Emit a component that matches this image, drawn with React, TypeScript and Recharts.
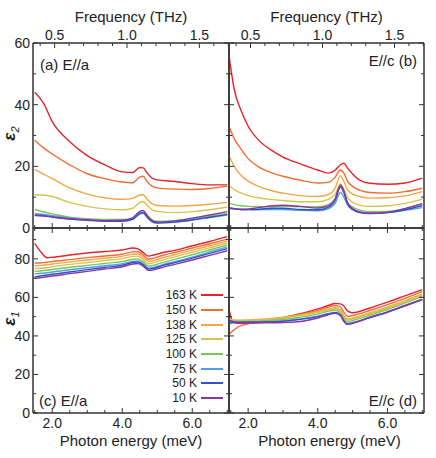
import React from 'react';
import { LineChart, Line, XAxis, YAxis, Legend } from 'recharts';

// ---------- layout ----------
const W = 436;
const H = 458;
const X0 = 33;   // left edge of left panels
const XM = 229;  // border between columns
const X1 = 424;  // right edge of right panels
const Y0 = 43;   // top edge
const YM = 228;  // border between rows
const Y1 = 413;  // bottom edge
const AX = 1;    // axis band size (recharts skips zero-size axes)
const AXIS = '#333';
const FONT = '"Liberation Sans", Arial, sans-serif';

// ---------- data ----------
const temps = ['163 K', '150 K', '138 K', '125 K', '100 K', '75 K', '50 K', '10 K'];
const keys = ['t163', 't150', 't138', 't125', 't100', 't75', 't50', 't10'];
const colors = ['#e4232a', '#f26b30', '#f4a545', '#d8c24e', '#7cc462', '#4ea3d6', '#2f50d0', '#8a36a0'];

const MEV_PER_THZ = 4.1357;
const energyDomain: [number, number] = [1.45, 7.05];
const meVTicks = [1.5, 2, 2.5, 3, 3.5, 4, 4.5, 5, 5.5, 6, 6.5, 7];
const meVMajor = [2, 4, 6];
const thzTicks = [0.4, 0.5, 0.6, 0.7, 0.8, 0.9, 1.0, 1.1, 1.2, 1.3, 1.4, 1.5, 1.6, 1.7];
const thzMajor = [0.5, 1.0, 1.5];
const eps2Ticks = [0, 10, 20, 30, 40, 50, 60];
const eps2Major = [0, 20, 40, 60];
const eps1Ticks = [0, 10, 20, 30, 40, 50, 60, 70, 80, 90];
const eps1Major = [0, 20, 40, 60, 80];

// (a) eps2, E//a  — rows: 163,150,138,125,100,75,50,10 K
const energyA = [1.5, 1.75, 2.0, 2.5, 3.0, 3.5, 4.0, 4.3, 4.5, 4.6, 4.7, 4.85, 5.0, 5.5, 6.0, 6.5, 7.0];
const eps2A_163 = [44, 40.5, 34.5, 28, 23.5, 20.5, 18.2, 18, 19.6, 19.5, 18, 16.2, 15.6, 15.1, 14.4, 14, 14];
const eps2A_150 = [28.5, 26, 24, 20.5, 17.6, 16, 14.9, 14.7, 16.5, 16.8, 15.2, 13.6, 13.0, 12.6, 12.5, 12.8, 13.6];
const eps2A_138 = [19, 17.5, 16, 13, 11, 9.8, 9.3, 9.6, 10.7, 10.8, 9.5, 7.9, 7.3, 7.1, 7.3, 7.7, 8.3];
const eps2A_125 = [10.8, 10.7, 10.2, 8.3, 7.0, 6.2, 5.9, 6.4, 8.3, 8.6, 7.5, 5.9, 5.4, 5.0, 5.3, 5.9, 6.8];
const eps2A_100 = [6.0, 5.2, 4.6, 3.5, 3.0, 2.8, 2.8, 3.3, 4.9, 5.1, 4.0, 2.6, 2.2, 2.4, 3.0, 3.8, 4.6];
const eps2A_75 = [4.6, 4.4, 4.0, 3.2, 2.7, 2.4, 2.4, 2.9, 4.6, 4.8, 3.6, 2.2, 1.8, 2.0, 2.6, 3.4, 4.2];
const eps2A_50 = [4.2, 4.0, 3.6, 2.9, 2.5, 2.2, 2.2, 2.8, 4.7, 5.0, 3.7, 2.1, 1.6, 1.9, 2.6, 3.5, 4.4];
const eps2A_10 = [4.0, 3.9, 3.5, 3.0, 2.6, 2.4, 2.5, 3.3, 5.4, 5.7, 4.3, 2.5, 1.9, 2.3, 3.2, 4.2, 5.3];

// (b) eps2, E//c
const energyB = [1.45, 1.6, 1.8, 2.0, 2.3, 2.7, 3.0, 3.5, 4.0, 4.3, 4.5, 4.65, 4.75, 4.85, 5.0, 5.2, 5.5, 6.0, 6.5, 7.0];
const eps2B_163 = [56, 45, 38, 33, 28.5, 25, 23, 20.8, 18.8, 17.8, 18.8, 20.5, 21, 19.5, 17.5, 15.5, 14.5, 14.2, 14.6, 16.2];
const eps2B_150 = [33, 29, 25.5, 22.5, 19.8, 17.8, 16.8, 15.5, 14.6, 14.8, 16.5, 18.8, 17.8, 15.3, 13.5, 12.3, 11.5, 11.3, 11.8, 12.9];
const eps2B_138 = [23.5, 20, 17, 15.2, 13.5, 12, 11.3, 10.5, 10.2, 10.8, 13, 17, 15, 12.5, 11, 10.2, 9.7, 9.8, 10.4, 11.8];
const eps2B_125 = [13.8, 12.5, 11.3, 10.5, 9.8, 9.2, 8.9, 8.5, 8.5, 9.3, 11, 14.3, 12.5, 10, 8.3, 7.4, 7, 7.2, 8, 9.3];
const eps2B_100 = [8.0, 7.6, 7.2, 7.0, 6.9, 6.9, 7.0, 6.9, 6.9, 7.6, 9.5, 13.5, 11.5, 8.5, 6.8, 5.8, 5.3, 5.4, 6.3, 7.8];
const eps2B_75 = [6.3, 6.2, 6.1, 6.0, 5.9, 6.0, 6.0, 5.7, 5.6, 6.2, 8.0, 11.5, 10, 7.5, 6.0, 5.2, 4.8, 5.0, 5.7, 6.6];
const eps2B_50 = [6.4, 6.2, 6.0, 6.0, 6.1, 6.4, 6.4, 6.0, 5.9, 6.7, 9.0, 13.3, 11.5, 8.0, 6.0, 5.0, 4.7, 5.0, 5.9, 7.2];
const eps2B_10 = [6.6, 6.3, 6.0, 6.1, 6.6, 7.2, 7.4, 7.0, 6.5, 7.2, 9.5, 14.0, 12, 8.3, 6.3, 5.2, 4.8, 5.1, 6.3, 7.9];

// (c) eps1, E//a
const energyC = [1.5, 1.7, 1.85, 2.0, 2.5, 3.0, 3.5, 4.0, 4.3, 4.45, 4.6, 4.75, 4.9, 5.2, 5.5, 6.0, 6.5, 7.0];
const eps1C_163 = [88, 83, 80.6, 80.8, 82, 83, 83.8, 84.6, 85.6, 85.2, 83.2, 81.4, 82, 83.4, 84.4, 86.8, 89, 91.5];
const eps1C_150 = [77.8, 78, 78.2, 78.6, 79.6, 80.6, 81.5, 82.4, 83.6, 83.7, 82, 79.8, 80.4, 82, 83.3, 85.6, 87.8, 90.2];
const eps1C_138 = [76.4, 76.6, 76.9, 77.3, 78.4, 79.4, 80.3, 81.3, 82.4, 82.5, 80.8, 78.6, 79.2, 80.8, 82.1, 84.5, 86.8, 89.2];
const eps1C_125 = [75, 75.1, 75.4, 75.9, 77.1, 78.1, 79.1, 80.1, 81.3, 81.4, 79.7, 77.4, 78, 79.6, 81, 83.4, 85.7, 88.2];
const eps1C_100 = [73.5, 73.8, 74.1, 74.5, 75.6, 76.6, 77.6, 78.6, 79.8, 80, 78.4, 76.2, 76.7, 78.3, 79.7, 82.1, 84.6, 87.2];
const eps1C_75 = [72.2, 72.5, 72.8, 73.2, 74.3, 75.4, 76.4, 77.5, 78.7, 78.9, 77.4, 75.2, 75.6, 77.2, 78.5, 80.9, 83.6, 86.2];
const eps1C_50 = [70.6, 71.2, 71.6, 72, 73.2, 74.4, 75.5, 76.7, 78.1, 78.3, 76.9, 74.7, 75.1, 76.7, 78, 80.4, 82.8, 85.3];
const eps1C_10 = [69.8, 70.3, 70.7, 71.1, 72.3, 73.5, 74.7, 75.9, 77.3, 77.6, 76.2, 74, 74.3, 75.8, 77.1, 79.4, 81.8, 84.2];

// (d) eps1, E//c
const energyD = [1.45, 1.55, 1.7, 2.0, 2.5, 3.0, 3.5, 4.0, 4.3, 4.5, 4.65, 4.75, 4.85, 5.0, 5.5, 6.0, 6.5, 7.0];
const eps1D_163 = [54, 47.5, 46.5, 46.5, 47.8, 49.5, 51.5, 54, 55.8, 56.8, 56.6, 55.5, 53, 52, 54.5, 57.5, 60.8, 64];
const eps1D_150 = [40.5, 42.5, 44.5, 46.3, 48, 49.5, 51.2, 53.2, 55, 55.8, 55, 52.2, 50.2, 50.6, 53.2, 56.2, 59.5, 63];
const eps1D_138 = [48.5, 48.3, 48.2, 48.3, 48.8, 49.7, 51, 52.6, 54, 54.6, 53.5, 50.5, 48.8, 49.3, 52, 55, 58.3, 61.8];
const eps1D_125 = [48.3, 48.1, 48, 48, 48.4, 49.2, 50.5, 52.1, 53.5, 54.1, 53, 50, 48.3, 48.8, 51.5, 54.5, 57.8, 61.2];
const eps1D_100 = [48, 47.8, 47.6, 47.5, 47.8, 48.5, 49.7, 51.3, 52.8, 53.3, 52, 49, 47.5, 48, 50.8, 53.7, 57, 60.5];
const eps1D_75 = [47.2, 47.2, 47.2, 47.2, 47.3, 47.8, 48.8, 50.2, 51.6, 52.2, 51, 48, 46.5, 47, 49.8, 52.5, 55.7, 59];
const eps1D_50 = [46.5, 46.8, 47, 47.2, 47.3, 47.7, 48.6, 50, 51.4, 52, 50.8, 47.6, 46, 46.6, 49.5, 52.3, 55.5, 58.8];
const eps1D_10 = [48, 47.5, 47, 46.7, 46.8, 47, 47.5, 49.3, 51, 51.8, 50.6, 47.6, 46, 46.6, 49.6, 52.5, 55.8, 59];

const seriesA = [eps2A_163, eps2A_150, eps2A_138, eps2A_125, eps2A_100, eps2A_75, eps2A_50, eps2A_10];
const seriesB = [eps2B_163, eps2B_150, eps2B_138, eps2B_125, eps2B_100, eps2B_75, eps2B_50, eps2B_10];
const seriesC = [eps1C_163, eps1C_150, eps1C_138, eps1C_125, eps1C_100, eps1C_75, eps1C_50, eps1C_10];
const seriesD = [eps1D_163, eps1D_150, eps1D_138, eps1D_125, eps1D_100, eps1D_75, eps1D_50, eps1D_10];

function buildRows(energies: number[], series: number[][]) {
  return energies.map((e, i) => {
    const row: Record<string, number> = { e };
    keys.forEach((k, j) => {
      row[k] = series[j][i];
    });
    return row;
  });
}

// frequency ticks placed on the energy scale (1 THz = 4.1357 meV)
const thzTicksInMeV = thzTicks.map((t) => t * MEV_PER_THZ);
const thzMajorInMeV = thzMajor.map((t) => t * MEV_PER_THZ);
const fmtThz = (v: number) => (v / MEV_PER_THZ).toFixed(1);

// ---------- ticks ----------
type Side = 'left' | 'right' | 'top' | 'bottom';
const isIn = (v: number, list: number[]) => list.some((m) => Math.abs(m - v) < 1e-6);

const makeTick = (side: Side, majors: number[], showLabel: boolean, fmt: (v: number) => string) =>
  (p: any) => {
    const v = p.payload.value;
    const major = isIn(v, majors);
    const len = major ? 5 : 3;
    const x = p.x;
    const y = p.y;
    let x2 = x, y2 = y, tx = x, ty = y;
    let anchor: 'middle' | 'end' | 'start' = 'middle';
    if (side === 'bottom') { y2 = y - len; ty = y + 15; }
    if (side === 'top') { y2 = y + len; ty = y - 3; }
    if (side === 'left') { x2 = x + len; tx = x - 3; ty = y + 5; anchor = 'end'; }
    if (side === 'right') { x2 = x - len; }
    return (
      <g>
        <line x1={x} y1={y} x2={x2} y2={y2} stroke={AXIS} strokeWidth={1} />
        {showLabel && major && (
          <text x={tx} y={ty} textAnchor={anchor} fontSize={14} fill="#222" fontFamily={FONT}>
            {fmt(v)}
          </text>
        )}
      </g>
    );
  };

const f1 = (v: number) => v.toFixed(1);
const f0 = (v: number) => String(v);

// ---------- legend ----------
function LegendBox() {
  return (
    <div style={{ width: 75, fontFamily: FONT }}>
      {temps.map((t, i) => (
        <div
          key={t}
          style={{
            display: 'flex',
            justifyContent: 'flex-end',
            alignItems: 'center',
            height: 14.66,
            fontSize: 12,
            color: '#222',
          }}
        >
          <span>{t}</span>
          <span style={{ display: 'inline-block', width: 22, height: 2, background: colors[i], marginLeft: 4, marginRight: 2 }} />
        </div>
      ))}
    </div>
  );
}

// ---------- panel ----------
interface PanelProps {
  energies: number[];
  series: number[][];
  margin: { top: number; left: number; right: number; bottom: number };
  yDomain: [number, number];
  yTicks: number[];
  yMajor: number[];
  yLabels: boolean;
  topThz: boolean;
  bottomLabels: boolean;
  legend?: boolean;
  children?: React.ReactNode;
}

function Panel(props: PanelProps) {
  const { energies, series, margin, yDomain, yTicks, yMajor, yLabels, topThz, bottomLabels, legend, children } = props;
  const rows = buildRows(energies, series);
  const axisLine = { stroke: AXIS, strokeWidth: 1.5 };
  const common = {
    interval: 0 as const,
    tickSize: 0,
    tickMargin: 0,
    tickLine: false,
    axisLine,
    allowDataOverflow: true,
  };
  // axes take AX px each; subtract from margins so the plot box lands on the frame
  const m = {
    top: margin.top - AX,
    bottom: margin.bottom - AX,
    left: margin.left - AX,
    right: margin.right - AX,
  };
  return (
    <div style={{ position: 'absolute', left: 0, top: 0 }}>
      <LineChart width={W} height={H} data={rows} margin={m}>
        <XAxis
          xAxisId="e"
          dataKey="e"
          type="number"
          orientation="bottom"
          domain={energyDomain}
          ticks={meVTicks}
          height={AX}
          tick={makeTick('bottom', meVMajor, bottomLabels, f1)}
          {...common}
        />
        <XAxis
          xAxisId="t"
          dataKey="e"
          type="number"
          orientation="top"
          domain={energyDomain}
          ticks={topThz ? thzTicksInMeV : meVTicks}
          height={AX}
          tick={topThz ? makeTick('top', thzMajorInMeV, true, fmtThz) : makeTick('top', meVMajor, false, f1)}
          {...common}
        />
        <YAxis
          yAxisId="l"
          type="number"
          orientation="left"
          domain={yDomain}
          ticks={yTicks}
          width={AX}
          tick={makeTick('left', yMajor, yLabels, f0)}
          {...common}
        />
        <YAxis
          yAxisId="r"
          type="number"
          orientation="right"
          domain={yDomain}
          ticks={yTicks}
          width={AX}
          tick={makeTick('right', yMajor, false, f0)}
          {...common}
        />
        {keys.map((k, i) => (
          <Line
            key={k}
            xAxisId="e"
            yAxisId="l"
            dataKey={k}
            name={temps[i]}
            type="monotone"
            stroke={colors[i]}
            strokeWidth={1.4}
            dot={false}
            activeDot={false}
            isAnimationActive={false}
          />
        ))}
        {/* invisible twin so the top/right frame axes share the same data range */}
        <Line
          xAxisId="t"
          yAxisId="r"
          dataKey={keys[0]}
          stroke="none"
          dot={false}
          activeDot={false}
          legendType="none"
          isAnimationActive={false}
        />
        {legend && (
          <Legend
            layout="vertical"
            align="center"
            verticalAlign="middle"
            content={() => <LegendBox />}
            wrapperStyle={{ left: 150, top: 288, width: 75 }}
          />
        )}
        {children}
      </LineChart>
    </div>
  );
}

const textStyle = { fontFamily: FONT, fill: '#222' };

export default function App() {
  const mA = { top: Y0, left: X0, right: W - XM, bottom: H - YM };
  const mB = { top: Y0, left: XM, right: W - X1, bottom: H - YM };
  const mC = { top: YM, left: X0, right: W - XM, bottom: H - Y1 };
  const mD = { top: YM, left: XM, right: W - X1, bottom: H - Y1 };
  return (
    <div style={{ position: 'absolute', left: 0, top: 0, width: W, height: H, background: '#fff', fontFamily: FONT }}>
      <Panel energies={energyA} series={seriesA} margin={mA} yDomain={[0, 60]} yTicks={eps2Ticks} yMajor={eps2Major} yLabels topThz bottomLabels={false}>
        <text x={(X0 + XM) / 2} y={22} textAnchor="middle" fontSize={15} style={textStyle}>Frequency (THz)</text>
        <text x={X0 + 7} y={70} fontSize={15} style={textStyle}>(a) E//a</text>
        <text transform={`translate(15, ${(Y0 + YM) / 2 - 2}) rotate(-90)`} textAnchor="middle" fontSize={17} fontStyle="italic" fontWeight="bold" style={textStyle}>
          ε<tspan fontSize={11} dy={4} fontWeight="normal">2</tspan>
        </text>
      </Panel>
      <Panel energies={energyB} series={seriesB} margin={mB} yDomain={[0, 60]} yTicks={eps2Ticks} yMajor={eps2Major} yLabels={false} topThz bottomLabels={false}>
        <text x={(XM + X1) / 2} y={22} textAnchor="middle" fontSize={15} style={textStyle}>Frequency (THz)</text>
        <text x={X1 - 7} y={66} textAnchor="end" fontSize={15} style={textStyle}>E//c (b)</text>
      </Panel>
      <Panel energies={energyC} series={seriesC} margin={mC} yDomain={[0, 96]} yTicks={eps1Ticks} yMajor={eps1Major} yLabels topThz={false} bottomLabels legend>
        <text x={(X0 + XM) / 2} y={446} textAnchor="middle" fontSize={15} style={textStyle}>Photon energy (meV)</text>
        <text x={X0 + 6} y={406} fontSize={15} style={textStyle}>(c) E//a</text>
        <text transform={`translate(15, ${(YM + Y1) / 2 - 2}) rotate(-90)`} textAnchor="middle" fontSize={17} fontStyle="italic" fontWeight="bold" style={textStyle}>
          ε<tspan fontSize={11} dy={4} fontWeight="normal">1</tspan>
        </text>
      </Panel>
      <Panel energies={energyD} series={seriesD} margin={mD} yDomain={[0, 96]} yTicks={eps1Ticks} yMajor={eps1Major} yLabels={false} topThz={false} bottomLabels>
        <text x={(XM + X1) / 2 + 3} y={446} textAnchor="middle" fontSize={15} style={textStyle}>Photon energy (meV)</text>
        <text x={X1 - 7} y={406} textAnchor="end" fontSize={15} style={textStyle}>E//c (d)</text>
      </Panel>
    </div>
  );
}
